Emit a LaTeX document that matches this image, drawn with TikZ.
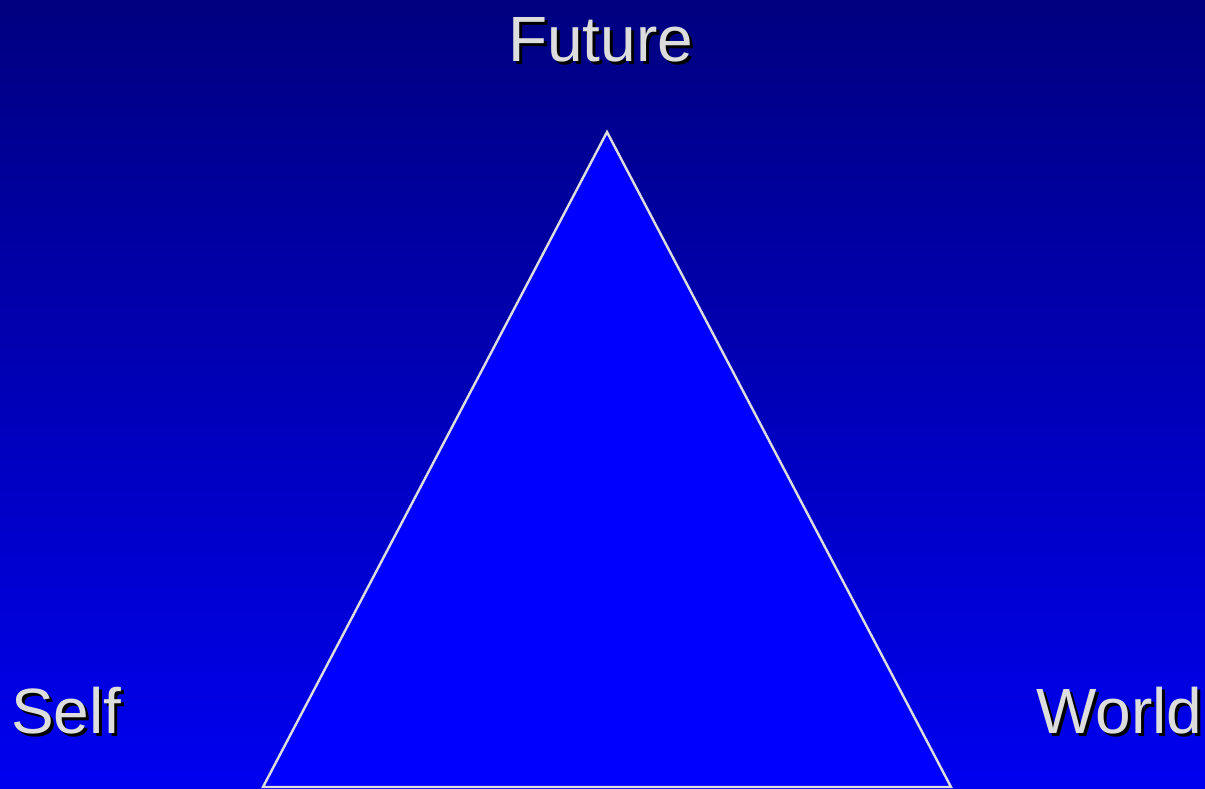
\documentclass[tikz,border=0pt]{standalone}
\usepackage{fontspec}
\setmainfont{Liberation Sans}
\definecolor{bgtop}{RGB}{0,0,128}
\definecolor{bgbot}{RGB}{0,0,240}
\definecolor{trifill}{RGB}{0,0,255}
\definecolor{lightgray}{RGB}{221,221,221}
\tikzset{
  lbl/.style={text=lightgray, inner sep=0pt, anchor=base west, font=\fontsize{64}{76}\selectfont},
  shadowlbl/.style={lbl, text=black},
  tri/.style={draw=lightgray, fill=trifill, line width=2.4pt, line join=miter}
}
\begin{document}
\begin{tikzpicture}[x=1pt,y=-1pt]
\useasboundingbox (0,0) rectangle (1205,789);
\shade[top color=bgtop, bottom color=bgbot] (0,0) rectangle (1205,789);
\coordinate (apex) at (607,132);
\coordinate (bl) at (263,787);
\coordinate (br) at (951,787);
\draw[tri] (apex) -- (bl) -- (br) -- cycle;
\node[shadowlbl] (futs) at (511,65) {Future};
\node[lbl] (fut) at (508,62) {Future};
\node[shadowlbl] (selfs) at (14,736) {Self};
\node[lbl] (self) at (11,733) {Self};
\node[shadowlbl] (worlds) at (1039,736) {World};
\node[lbl] (world) at (1036,733) {World};
\end{tikzpicture}
\end{document}
